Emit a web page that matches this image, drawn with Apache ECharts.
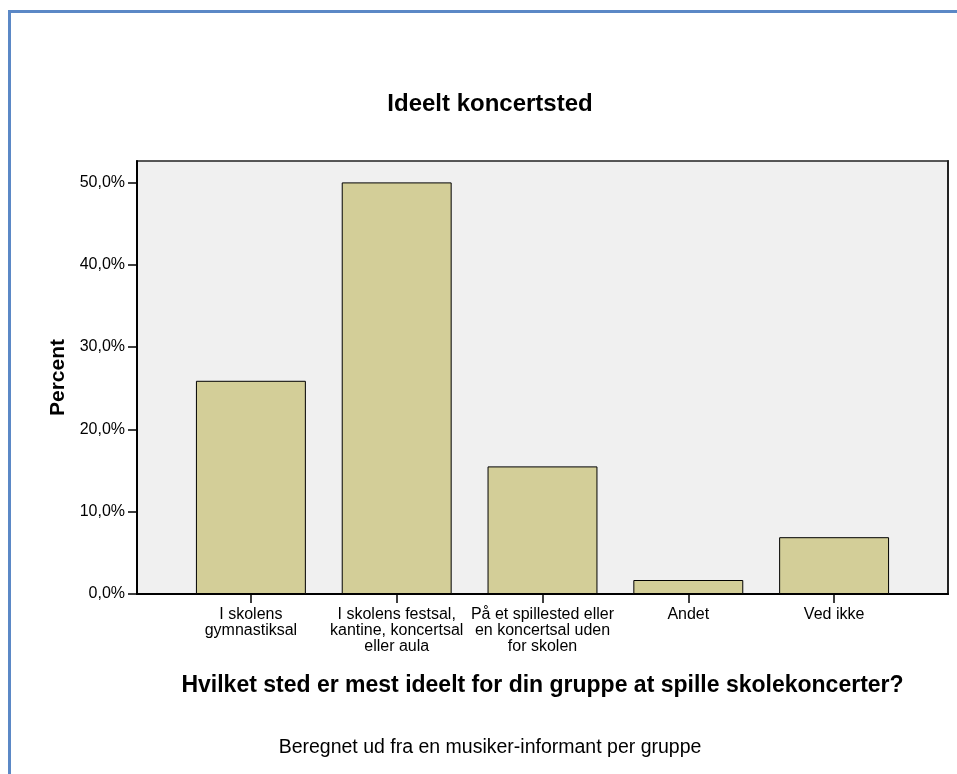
<!DOCTYPE html>
<html>
<head>
<meta charset="utf-8">
<script src="https://cdn.jsdelivr.net/npm/echarts@6/dist/echarts.min.js"></script>
<style>
html,body{margin:0;padding:0;background:#fff;}
#chart{position:absolute;left:0;top:0;width:957px;height:774px;}
#frame{position:absolute;left:8px;top:10px;width:960px;height:780px;border-top:3px solid #5b88c6;border-left:3px solid #5b88c6;box-sizing:border-box;pointer-events:none;}
</style>
</head>
<body>
<div id="chart"></div>
<div id="frame"></div>
<script>
const titleText = 'Ideelt koncertsted';
const xAxisTitle = 'Hvilket sted er mest ideelt for din gruppe at spille skolekoncerter?';
const yAxisTitle = 'Percent';
const footnote = 'Beregnet ud fra en musiker-informant per gruppe';
const categories = [
  'I skolens\ngymnastiksal',
  'I skolens festsal,\nkantine, koncertsal\neller aula',
  'På et spillested eller\nen koncertsal uden\nfor skolen',
  'Andet',
  'Ved ikke'
];
const percentValues = [25.9, 50.0, 15.5, 1.7, 6.9];
const yMin = 0;
const yMax = 52.6;
const yInterval = 10;

const chart = echarts.init(document.getElementById('chart'), null, {renderer: 'canvas'});
const font = 'Arial, "Liberation Sans", Helvetica, sans-serif';
chart.setOption({
  animation: false,
  textStyle: {fontFamily: font},
  title: [
    {text: titleText, left: 485, top: 87, textAlign: 'center',
     textStyle: {fontSize: 24, fontWeight: 'bold', color: '#000', fontFamily: font}},
    {text: footnote, left: 485, top: 733, textAlign: 'center',
     textStyle: {fontSize: 19.5, fontWeight: 'normal', color: '#000', fontFamily: font}}
  ],
  grid: [
    {left: 137, right: 9, top: 161, bottom: 180, show: true, backgroundColor: '#f0f0f0', borderColor: '#222', borderWidth: 1.5},
    {left: 178, right: 50, top: 161, bottom: 180}
  ],
  xAxis: [
    {gridIndex: 0, type: 'category', data: ['a'], axisLine: {show: true, lineStyle: {color: '#000', width: 2}},
     axisTick: {show: false}, axisLabel: {show: false}, splitLine: {show: false}},
    {gridIndex: 1, type: 'category', data: categories,
     name: xAxisTitle, nameLocation: 'middle', nameGap: 80,
     nameTextStyle: {fontSize: 23, fontWeight: 'bold', color: '#000', fontFamily: font},
     axisLine: {show: false},
     axisTick: {show: true, alignWithLabel: true, length: 9, lineStyle: {color: '#000', width: 1.5}},
     axisLabel: {interval: 0, margin: 13, fontSize: 16, lineHeight: 16, color: '#000', fontFamily: font, align: 'center'},
     splitLine: {show: false}}
  ],
  yAxis: [
    {gridIndex: 0, type: 'value', min: yMin, max: yMax, interval: yInterval,
     name: yAxisTitle, nameLocation: 'middle', nameGap: 68, nameRotate: 90,
     nameTextStyle: {fontSize: 21, fontWeight: 'bold', color: '#000', fontFamily: font},
     axisLine: {show: true, lineStyle: {color: '#000', width: 2}},
     axisTick: {show: true, length: 9, lineStyle: {color: '#000', width: 1.5}},
     axisLabel: {margin: 12, fontSize: 16, color: '#000', fontFamily: font, showMaxLabel: false,
       formatter: v => v.toFixed(1).replace('.', ',') + '%'},
     splitLine: {show: false}},
    {gridIndex: 0, type: 'value', position: 'right', min: yMin, max: yMax,
     axisLine: {show: true, lineStyle: {color: '#222', width: 2}},
     axisTick: {show: false}, axisLabel: {show: false}, splitLine: {show: false}},
    {gridIndex: 1, type: 'value', min: yMin, max: yMax, interval: yInterval, show: false}
  ],
  series: [{
    type: 'bar', xAxisIndex: 1, yAxisIndex: 2,
    data: percentValues, barWidth: '75.4%',
    itemStyle: {color: '#d3ce98', borderColor: '#000', borderWidth: 1}
  }]
});
</script>
</body>
</html>
